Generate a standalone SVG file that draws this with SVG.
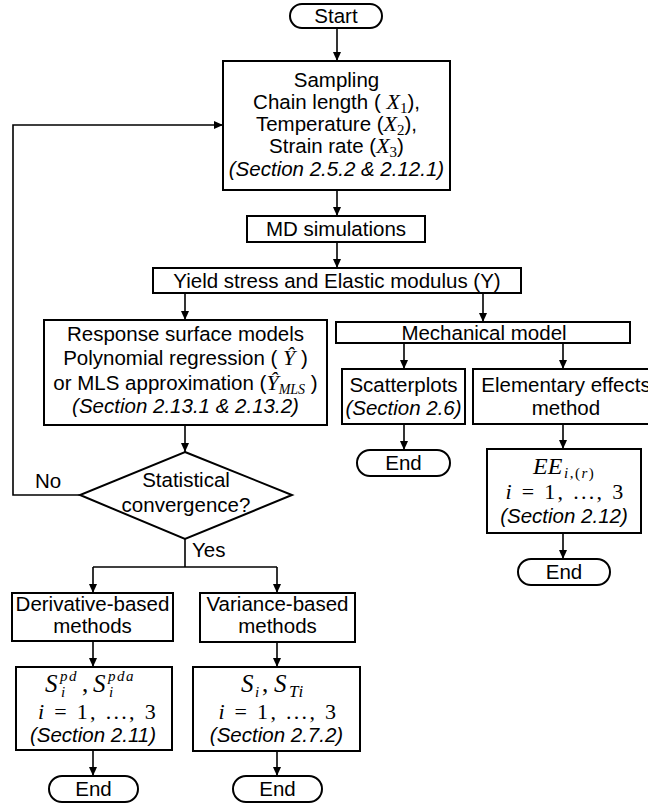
<svg xmlns="http://www.w3.org/2000/svg" width="648" height="805" viewBox="0 0 648 805">
<defs>
<marker id="arr" markerUnits="userSpaceOnUse" markerWidth="9" markerHeight="8" refX="9" refY="4" orient="auto">
<path d="M0,0 L9,4 L0,8 z" fill="#000"/>
</marker>
<style>
.box{fill:#fff;stroke:#000;stroke-width:2}
.t{font-family:"Liberation Sans",Arial,sans-serif;font-size:20.5px;text-anchor:middle;fill:#000}
.ts{font-family:"Liberation Sans",Arial,sans-serif;font-size:20.5px;fill:#000}
.it{font-style:italic}
.m{font-family:"Liberation Serif","Times New Roman",serif;font-style:italic}
.mu{font-family:"Liberation Serif","Times New Roman",serif;font-style:normal}
.ml{font-family:"Liberation Serif","Times New Roman",serif;fill:#000}
.sc{font-size:15px;letter-spacing:1.5px}
.big{font-size:25px}
.il{font-size:22px;letter-spacing:2.3px}
.e{stroke:#000;stroke-width:1.6;fill:none}
.a{stroke:#000;stroke-width:1.6;fill:none;marker-end:url(#arr)}
</style>
</defs>
<rect width="648" height="805" fill="#fff"/>

<g id="connectors">
<line class="a" x1="337" y1="28" x2="337" y2="61"/>
<line class="a" x1="337" y1="190" x2="337" y2="216"/>
<line class="a" x1="337" y1="242" x2="337" y2="268"/>
<line class="a" x1="185" y1="293" x2="185" y2="320"/>
<line class="a" x1="483" y1="293" x2="483" y2="322"/>
<line class="a" x1="404" y1="343" x2="404" y2="369"/>
<line class="a" x1="563" y1="343" x2="563" y2="369"/>
<line class="a" x1="404" y1="424" x2="404" y2="450"/>
<line class="a" x1="563" y1="424" x2="563" y2="449"/>
<line class="a" x1="563" y1="533" x2="563" y2="559"/>
<line class="a" x1="185" y1="425" x2="185" y2="452"/>
<polyline class="a" points="80,495 13,495 13,125 223,125"/>
<line class="e" x1="185" y1="539" x2="185" y2="567"/>
<line class="e" x1="93" y1="567" x2="277" y2="567"/>
<line class="a" x1="93" y1="567" x2="93" y2="593"/>
<line class="a" x1="277" y1="567" x2="277" y2="593"/>
<line class="a" x1="93" y1="641" x2="93" y2="667"/>
<line class="a" x1="277" y1="642" x2="277" y2="667"/>
<line class="a" x1="93" y1="750" x2="93" y2="776"/>
<line class="a" x1="277" y1="751" x2="277" y2="776"/>
</g>

<g id="start">
<rect class="box" x="290" y="4" width="92" height="24" rx="12"/>
<text class="t" x="336" y="23">Start</text>
</g>

<g id="sampling">
<rect class="box" x="223" y="61" width="227" height="129"/>
<text class="t" x="336.5" y="87">Sampling</text>
<text class="t" x="336.5" y="109">Chain length ( <tspan class="m" font-size="22">X</tspan><tspan class="mu" font-size="15" dy="4">1</tspan><tspan dy="-4">),</tspan></text>
<text class="t" x="336.5" y="131">Temperature (<tspan class="m" font-size="22">X</tspan><tspan class="mu" font-size="15" dy="4">2</tspan><tspan dy="-4">),</tspan></text>
<text class="t" x="336.5" y="153">Strain rate (<tspan class="m" font-size="22">X</tspan><tspan class="mu" font-size="15" dy="4">3</tspan><tspan dy="-4">)</tspan></text>
<text class="t it" x="336.5" y="176">(Section 2.5.2 &amp; 2.12.1)</text>
</g>

<g id="md">
<rect class="box" x="247" y="216" width="178" height="26"/>
<text class="t" x="336" y="236">MD simulations</text>
</g>

<g id="yield">
<rect class="box" x="153" y="268" width="368" height="25"/>
<text class="t" x="337" y="288">Yield stress and Elastic modulus (Y)</text>
</g>

<g id="rsm">
<rect class="box" x="44" y="320" width="283" height="105"/>
<text class="t" x="185.5" y="341">Response surface models</text>
<text class="t" x="185.5" y="365">Polynomial regression ( <tspan class="m" font-size="22">Ŷ</tspan> )</text>
<text class="t" x="185.5" y="390">or MLS approximation (<tspan class="m" font-size="22">Ŷ</tspan><tspan class="m" font-size="14" dy="4">MLS</tspan><tspan dy="-4"> )</tspan></text>
<text class="t it" x="185.5" y="413">(Section 2.13.1 &amp; 2.13.2)</text>
</g>

<g id="mechanical">
<rect class="box" x="336" y="322" width="294" height="21"/>
<text class="t" x="484" y="340">Mechanical model</text>
</g>

<g id="scatter">
<rect class="box" x="342" y="369" width="123" height="55"/>
<text class="t" x="403.5" y="392">Scatterplots</text>
<text class="t it" x="403.5" y="415">(Section 2.6)</text>
</g>

<g id="elementary">
<rect class="box" x="473" y="369" width="186" height="55"/>
<text class="t" x="566" y="392">Elementary effects</text>
<text class="t" x="566" y="415">method</text>
</g>

<g id="end1">
<rect class="box" x="357" y="450" width="93" height="26" rx="13"/>
<text class="t" x="403.5" y="470">End</text>
</g>

<g id="ee">
<rect class="box" x="487" y="449" width="154" height="84"/>
<text class="ml"><tspan class="m" x="533" y="474" font-size="24">EE</tspan><tspan class="sc" x="564" y="478"><tspan class="m">i</tspan>,(<tspan class="m">r</tspan>)</tspan><tspan class="il" x="505.6" y="499"><tspan class="m">i</tspan> = 1, ..., 3</tspan></text>
<text class="t it" x="564" y="523">(Section 2.12)</text>
</g>

<g id="end2">
<rect class="box" x="518" y="559" width="92" height="26" rx="13"/>
<text class="t" x="564" y="579">End</text>
</g>

<g id="decision">
<polygon class="box" points="185,452 292,495 185,539 80,495"/>
<text class="t" x="186" y="487">Statistical</text>
<text class="t" x="186" y="512">convergence?</text>
</g>
<text class="t" x="48" y="488">No</text>
<text class="ts" x="192" y="557">Yes</text>

<g id="derivative">
<rect class="box" x="12" y="593" width="161" height="48"/>
<text class="t" x="92.5" y="611">Derivative-based</text>
<text class="t" x="92.5" y="633">methods</text>
</g>

<g id="variance">
<rect class="box" x="200" y="593" width="155" height="49"/>
<text class="t" x="277.5" y="611">Variance-based</text>
<text class="t" x="277.5" y="633">methods</text>
</g>

<g id="derivative-result">
<rect class="box" x="16" y="667" width="156" height="83"/>
<text class="ml"><tspan class="m big" x="45" y="692">S</tspan><tspan class="m sc" x="60" y="681">pd</tspan><tspan class="m sc" x="61" y="697">i</tspan><tspan class="big" x="82" y="692">,</tspan><tspan class="m big" x="93" y="692">S</tspan><tspan class="m sc" x="108" y="681">pda</tspan><tspan class="m sc" x="109" y="697">i</tspan><tspan class="il" x="38" y="719"><tspan class="m">i</tspan> = 1, ..., 3</tspan></text>
<text class="t it" x="93" y="742">(Section 2.11)</text>
</g>

<g id="variance-result">
<rect class="box" x="193" y="667" width="167" height="84"/>
<text class="ml"><tspan class="m big" x="241" y="692">S</tspan><tspan class="m sc" x="255" y="697">i</tspan><tspan class="big" x="262" y="692">,</tspan><tspan class="m big" x="274" y="692">S</tspan><tspan class="m" x="289" y="697" font-size="17" letter-spacing="1">Ti</tspan><tspan class="il" x="218.4" y="719"><tspan class="m">i</tspan> = 1, ..., 3</tspan></text>
<text class="t it" x="276.5" y="742">(Section 2.7.2)</text>
</g>

<g id="end3">
<rect class="box" x="49" y="776" width="89" height="26" rx="13"/>
<text class="t" x="93.5" y="796">End</text>
</g>

<g id="end4">
<rect class="box" x="233" y="776" width="89" height="26" rx="13"/>
<text class="t" x="277.5" y="796">End</text>
</g>
</svg>
